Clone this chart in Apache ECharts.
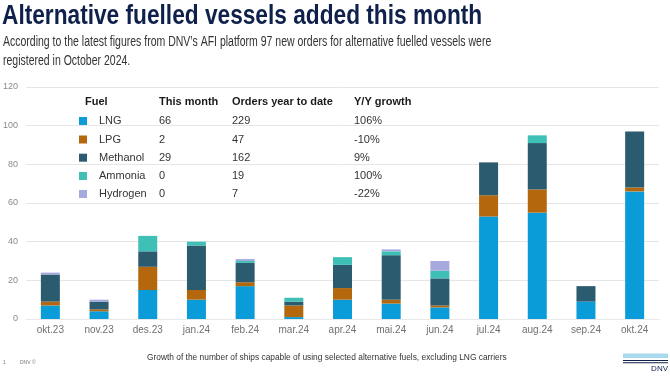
<!DOCTYPE html>
<html>
<head>
<meta charset="utf-8">
<script src="https://cdn.jsdelivr.net/npm/echarts@6/dist/echarts.min.js"></script>
<style>
html,body{margin:0;padding:0;background:#fff;}
#c{width:670px;height:380px;}
</style>
</head>
<body>
<div id="c"></div>
<script>
const categories = ['okt.23','nov.23','des.23','jan.24','feb.24','mar.24','apr.24','mai.24','jun.24','jul.24','aug.24','sep.24','okt.24'];
const lng      = [7, 4, 15, 10, 17, 1, 10, 8, 6, 53, 55, 9, 66];
const lpg      = [2, 1, 12, 5, 2, 6, 6, 2, 1, 11, 12, 0, 2];
const methanol = [14, 4, 8, 23, 10, 2, 12, 23, 14, 17, 24, 8, 29];
const ammonia  = [0, 0, 8, 2, 1, 2, 4, 2, 4, 0, 4, 0, 0];
const hydrogen = [1, 1, 0, 0, 1, 0, 0, 1, 5, 0, 0, 0, 0];

const fuels      = ['LNG', 'LPG', 'Methanol', 'Ammonia', 'Hydrogen'];
const thisMonth  = ['66', '2', '29', '0', '0'];
const yearToDate = ['229', '47', '162', '19', '7'];
const yoyGrowth  = ['106%', '-10%', '9%', '100%', '-22%'];
const tableHeaders = ['Fuel', 'This month', 'Orders year to date', 'Y/Y growth'];
const yTicks = [0, 20, 40, 60, 80, 100, 120];

const colors = ['#0a9cd8', '#b4670c', '#2b5b6e', '#3fc0b7', '#a6a9de'];
const seriesData = [lng, lpg, methanol, ammonia, hydrogen];

const FONT = '"Liberation Sans", Arial, sans-serif';
const chart = echarts.init(document.getElementById('c'), null, {renderer: 'canvas'});

const graphics = [];
graphics.push({type:'text', x:2, y:16, scaleX:0.81, style:{text:'Alternative fuelled vessels added this month', font:'bold 28px ' + FONT, fill:'#0f204b', textVerticalAlign:'middle'}});
graphics.push({type:'text', x:3, y:42, scaleX:0.75, style:{text:'According to the latest figures from DNV\u2019s AFI platform 97 new orders for alternative fuelled vessels were', font:'14px ' + FONT, fill:'#333333', textVerticalAlign:'middle'}});
graphics.push({type:'text', x:3, y:61, scaleX:0.75, style:{text:'registered in October 2024.', font:'14px ' + FONT, fill:'#333333', textVerticalAlign:'middle'}});

// table
const colX = [85, 159, 232, 354];
const headY = 102;
const rowY = [121, 139.5, 157.7, 176, 194];
tableHeaders.forEach((h, i) => {
  graphics.push({type:'text', x:colX[i], y:headY, style:{text:h, font:'bold 11px ' + FONT, fill:'#1a1a1a', textVerticalAlign:'middle'}});
});
fuels.forEach((f, i) => {
  graphics.push({type:'rect', shape:{x:79, y:rowY[i]-4, width:8, height:8}, style:{fill:colors[i]}});
  graphics.push({type:'text', x:99, y:rowY[i], style:{text:f, font:'11px ' + FONT, fill:'#333', textVerticalAlign:'middle'}});
  graphics.push({type:'text', x:colX[1], y:rowY[i], style:{text:thisMonth[i], font:'11px ' + FONT, fill:'#333', textVerticalAlign:'middle'}});
  graphics.push({type:'text', x:colX[2], y:rowY[i], style:{text:yearToDate[i], font:'11px ' + FONT, fill:'#333', textVerticalAlign:'middle'}});
  graphics.push({type:'text', x:colX[3], y:rowY[i], style:{text:yoyGrowth[i], font:'11px ' + FONT, fill:'#333', textVerticalAlign:'middle'}});
});

// footer
graphics.push({type:'text', x:147, y:357.5, scaleX:0.93, style:{text:'Growth of the number of ships capable of using selected alternative fuels, excluding LNG carriers', font:'9px ' + FONT, fill:'#333', textVerticalAlign:'middle'}});
graphics.push({type:'text', x:3, y:363, style:{text:'1', font:'5px ' + FONT, fill:'#777', textVerticalAlign:'middle'}});
graphics.push({type:'text', x:20, y:363, style:{text:'DNV \u00a9', font:'5px ' + FONT, fill:'#777', textVerticalAlign:'middle'}});
// logo
graphics.push({type:'rect', shape:{x:623, y:353.5, width:45, height:4.5}, style:{fill:'#a8d9ec'}});
graphics.push({type:'rect', shape:{x:623, y:360, width:45, height:1}, style:{fill:'#0f204b'}});
graphics.push({type:'rect', shape:{x:623, y:362.3, width:45, height:1}, style:{fill:'#0f204b'}});
graphics.push({type:'text', x:668, y:369, style:{text:'DNV', font:'8px ' + FONT, fill:'#0f204b', textAlign:'right', textVerticalAlign:'middle'}});

chart.setOption({
  animation:false,
  textStyle:{fontFamily:FONT},
  grid:{left:23, right:11, top:87, bottom:61, containLabel:false},
  xAxis:{
    type:'category', data:categories,
    axisLine:{show:true, lineStyle:{color:'#e8e8e8'}},
    axisTick:{show:false},
    axisLabel:{color:'#707070', fontSize:10, margin:6}
  },
  yAxis:{
    type:'value', min:yTicks[0], max:yTicks[yTicks.length-1], interval:20,
    axisLine:{show:false}, axisTick:{show:false},
    axisLabel:{color:'#8a8a8a', fontSize:9, margin:8},
    splitLine:{lineStyle:{color:'#e6e6e6', width:1}}
  },
  series: fuels.map((f, i) => ({
    name:f, type:'bar', stack:'total', data:seriesData[i],
    barWidth:19, itemStyle:{color:colors[i]}
  })),
  graphic: graphics
});
</script>
</body>
</html>
